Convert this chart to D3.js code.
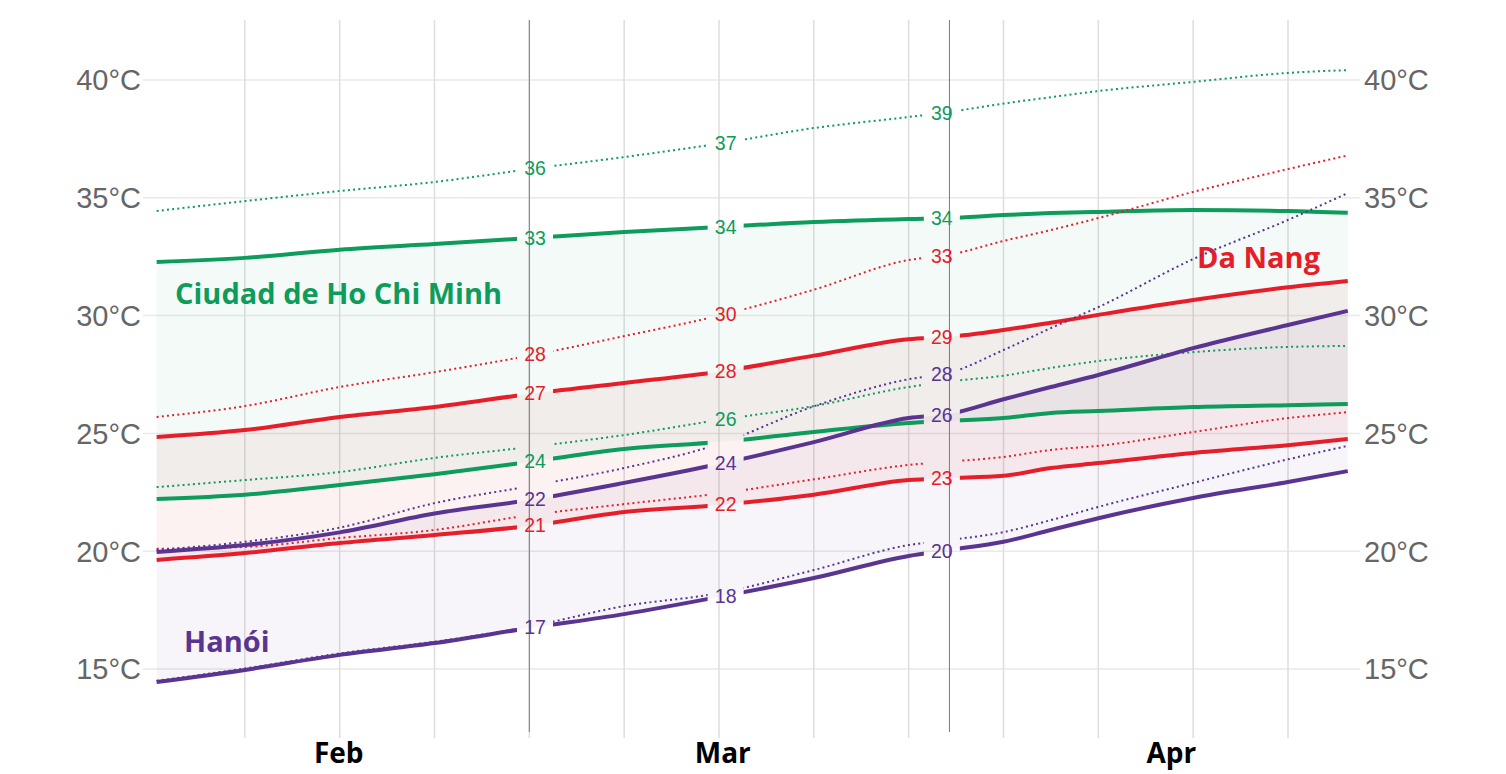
<!DOCTYPE html>
<html><head><meta charset="utf-8">
<script src="https://cdn.jsdelivr.net/npm/d3@7"></script>
<style>html,body{margin:0;padding:0;background:#fff;} svg{display:block}</style>
</head><body>
<svg id="chart" width="1506" height="774"></svg>
<script>
// sample positions along the x axis (grid units)
const positions   = [0.07, 1, 2, 3, 4, 5, 6, 7, 8, 8.42, 9, 9.5, 10, 11, 12, 12.63];
// Ciudad de Ho Chi Minh
const hcmcMaxHigh = [34.44, 34.86, 35.29, 35.67, 36.22, 36.73, 37.30, 37.96, 38.43, 38.64, 39.00, 39.27, 39.53, 39.92, 40.30, 40.42];
const hcmcAvgHigh = [32.28, 32.45, 32.80, 33.04, 33.29, 33.55, 33.76, 33.97, 34.10, 34.14, 34.27, 34.35, 34.40, 34.48, 34.44, 34.36];
const hcmcMinLow  = [22.72, 23.02, 23.36, 23.96, 24.42, 24.93, 25.57, 26.16, 26.97, 27.20, 27.45, 27.78, 28.07, 28.45, 28.67, 28.71];
const hcmcAvgLow  = [22.22, 22.40, 22.81, 23.27, 23.79, 24.34, 24.63, 25.06, 25.44, 25.53, 25.65, 25.87, 25.95, 26.12, 26.20, 26.25];
// Da Nang
const dnMaxHigh   = [25.70, 26.16, 26.97, 27.60, 28.30, 29.13, 30.00, 31.10, 32.36, 32.57, 33.17, 33.63, 34.14, 35.25, 36.22, 36.80];
const dnAvgHigh   = [24.85, 25.14, 25.70, 26.12, 26.67, 27.14, 27.62, 28.30, 29.00, 29.10, 29.39, 29.70, 30.03, 30.66, 31.20, 31.47];
const dnMinLow    = [20.10, 20.18, 20.56, 20.90, 21.53, 22.00, 22.45, 23.05, 23.66, 23.80, 24.00, 24.30, 24.47, 25.06, 25.65, 25.90];
const dnAvgLow    = [19.63, 19.92, 20.35, 20.69, 21.07, 21.66, 21.96, 22.40, 23.02, 23.10, 23.20, 23.53, 23.74, 24.17, 24.50, 24.76];
// Hanói
const hnMaxHigh   = [20.05, 20.40, 21.00, 22.04, 22.76, 23.53, 24.55, 26.15, 27.30, 27.56, 28.54, 29.47, 30.36, 32.40, 34.06, 35.20];
const hnAvgHigh   = [19.97, 20.26, 20.80, 21.60, 22.17, 22.90, 23.70, 24.63, 25.65, 25.82, 26.45, 26.97, 27.48, 28.62, 29.60, 30.20];
const hnMinLow    = [14.50, 15.02, 15.66, 16.16, 16.80, 17.67, 18.22, 19.20, 20.26, 20.47, 20.81, 21.32, 21.88, 22.90, 23.90, 24.47];
const hnAvgLow    = [14.45, 14.96, 15.60, 16.10, 16.74, 17.33, 18.06, 18.86, 19.80, 20.05, 20.40, 20.90, 21.40, 22.26, 22.94, 23.40];

const yTicks = [15, 20, 25, 30, 35, 40];
const gridPositions = [1, 2, 3, 4, 5, 6, 7, 8, 9, 10, 11, 12];
const monthLabels = ["Feb", "Mar", "Apr"];
const monthPositions = [1.99, 6.04, 10.77];
const markerPositions = [4, 8.43];
const labelColumns = [4.06, 6.07, 8.35];
const labelSeries = [
  ["hcmcMaxHigh","hcmcAvgHigh","dnMaxHigh","dnAvgHigh","hcmcAvgLow","hnAvgHigh","dnAvgLow","hnAvgLow"],
  ["hcmcMaxHigh","hcmcAvgHigh","dnMaxHigh","dnAvgHigh","hcmcMinLow","hnAvgHigh","dnAvgLow","hnAvgLow"],
  ["hcmcMaxHigh","hcmcAvgHigh","dnMaxHigh","dnAvgHigh","hnMaxHigh","hnAvgHigh","dnAvgLow","hnAvgLow"]
];
const labelTexts = [
  ["36","33","28","27","24","22","21","17"],
  ["37","34","30","28","26","24","22","18"],
  ["39","34","33","29","28","26","23","20"]
];
const cityNames = ["Ciudad de Ho Chi Minh", "Da Nang", "Hanói"];

const GREEN = "#0d9c5c", RED = "#e51e2a", PURPLE = "#5a3491";
const seriesData = {hcmcMaxHigh, hcmcAvgHigh, hcmcMinLow, hcmcAvgLow, dnMaxHigh, dnAvgHigh, dnMinLow, dnAvgLow, hnMaxHigh, hnAvgHigh, hnMinLow, hnAvgLow};
const seriesStyle = {
  hcmcMaxHigh:{c:GREEN,d:true}, hcmcAvgHigh:{c:GREEN,d:false}, hcmcMinLow:{c:GREEN,d:true}, hcmcAvgLow:{c:GREEN,d:false},
  dnMaxHigh:{c:RED,d:true}, dnAvgHigh:{c:RED,d:false}, dnMinLow:{c:RED,d:true}, dnAvgLow:{c:RED,d:false},
  hnMaxHigh:{c:PURPLE,d:true}, hnAvgHigh:{c:PURPLE,d:false}, hnMinLow:{c:PURPLE,d:true}, hnAvgLow:{c:PURPLE,d:false}
};

const svg = d3.select("#chart");
const x = d3.scaleLinear().domain([0, 12]).range([150, 1288]);
const y = d3.scaleLinear().domain([15, 40]).range([669, 80]);
const plotTop = 20, plotBottom = 738;

// grid
const g = svg.append("g");
g.selectAll(".hg").data(yTicks).join("line")
  .attr("x1", 143).attr("x2", 1360)
  .attr("y1", d => y(d)).attr("y2", d => y(d))
  .attr("stroke", "#e9e9e9").attr("stroke-width", 1.5);
g.selectAll(".vg").data(gridPositions).join("line")
  .attr("x1", d => x(d)).attr("x2", d => x(d))
  .attr("y1", plotTop).attr("y2", plotBottom)
  .attr("stroke", "#dedede").attr("stroke-width", 1.5);

// axis labels
const axisFont = "'Liberation Sans', Arial, sans-serif";
svg.append("g").selectAll("text").data(yTicks).join("text")
  .attr("x", 141).attr("y", d => y(d)).attr("dy", "0.36em")
  .attr("text-anchor", "end").attr("font-family", axisFont).attr("font-size", 29)
  .attr("fill", "#666").text(d => d + "°C");
svg.append("g").selectAll("text").data(yTicks).join("text")
  .attr("x", 1364).attr("y", d => y(d)).attr("dy", "0.36em")
  .attr("text-anchor", "start").attr("font-family", axisFont).attr("font-size", 29)
  .attr("fill", "#666").text(d => d + "°C");
svg.append("g").selectAll("text").data(monthLabels).join("text")
  .attr("x", (d, i) => x(monthPositions[i])).attr("y", 763)
  .attr("text-anchor", "middle").attr("font-family", "'Open Sans', sans-serif")
  .attr("font-weight", 700).attr("font-size", 28).attr("fill", "#000").text(d => d);

// bands
const area = (hi, lo) => d3.area().curve(d3.curveMonotoneX)
  .x((d, i) => x(positions[i])).y0((d, i) => y(lo[i])).y1((d, i) => y(hi[i]))(hi);
svg.append("path").attr("d", area(hcmcAvgHigh, hcmcAvgLow)).attr("fill", GREEN).attr("fill-opacity", 0.05);
svg.append("path").attr("d", area(dnAvgHigh, dnAvgLow)).attr("fill", RED).attr("fill-opacity", 0.06);
svg.append("path").attr("d", area(hnAvgHigh, hnAvgLow)).attr("fill", PURPLE).attr("fill-opacity", 0.05);

// city labels (under the lines)
const cityPos = [[175, 304, GREEN], [1197, 268, RED], [184, 652, PURPLE]];
svg.append("g").selectAll("text").data(cityNames).join("text")
  .attr("x", (d, i) => cityPos[i][0]).attr("y", (d, i) => cityPos[i][1])
  .attr("font-family", "'Open Sans', sans-serif").attr("font-weight", 700).attr("font-size", 29)
  .attr("fill", (d, i) => cityPos[i][2]).text(d => d);

// interpolation helper for label positions
function valueAt(arr, u) {
  for (let i = 0; i < positions.length - 1; i++) {
    if (u >= positions[i] && u <= positions[i+1]) {
      const t = (u - positions[i]) / (positions[i+1] - positions[i]);
      return arr[i] + t * (arr[i+1] - arr[i]);
    }
  }
  return arr[arr.length - 1];
}

// mask gaps at label columns
const defs = svg.append("defs");
const mask = defs.append("mask").attr("id", "gapMask").attr("maskUnits", "userSpaceOnUse")
  .attr("x", 0).attr("y", 0).attr("width", 1506).attr("height", 774);
mask.append("rect").attr("x", 0).attr("y", 0).attr("width", 1506).attr("height", 774).attr("fill", "#fff");
labelColumns.forEach((u, ci) => {
  const ys = labelSeries[ci].map(k => y(valueAt(seriesData[k], u)));
  const top = d3.min(ys) - 14, bot = d3.max(ys) + 14;
  mask.append("rect").attr("x", x(u) - 18).attr("width", 36).attr("y", top).attr("height", bot - top).attr("fill", "#000");
});

// lines
const lineGen = d3.line().curve(d3.curveMonotoneX).x((d, i) => x(positions[i])).y(d => y(d));
const lg = svg.append("g").attr("mask", "url(#gapMask)");
Object.keys(seriesData).forEach(k => {
  const s = seriesStyle[k];
  lg.append("path").attr("d", lineGen(seriesData[k])).attr("fill", "none")
    .attr("stroke", s.c).attr("stroke-width", s.d ? 2 : 4)
    .attr("stroke-dasharray", s.d ? "2 3.2" : null)
    .attr("stroke-linejoin", "round");
});

// marker lines
svg.append("g").selectAll("line").data(markerPositions).join("line")
  .attr("x1", d => x(d)).attr("x2", d => x(d)).attr("y1", plotTop).attr("y2", 732)
  .attr("stroke", "#7a7a7a").attr("stroke-width", 1);

// value labels
labelColumns.forEach((u, ci) => {
  labelSeries[ci].forEach((k, j) => {
    svg.append("text").attr("x", x(u)).attr("y", y(valueAt(seriesData[k], u))).attr("dy", "0.36em")
      .attr("text-anchor", "middle").attr("font-family", axisFont).attr("font-size", 19.5)
      .attr("fill", seriesStyle[k].c).text(labelTexts[ci][j]);
  });
});
</script>
</body></html>
